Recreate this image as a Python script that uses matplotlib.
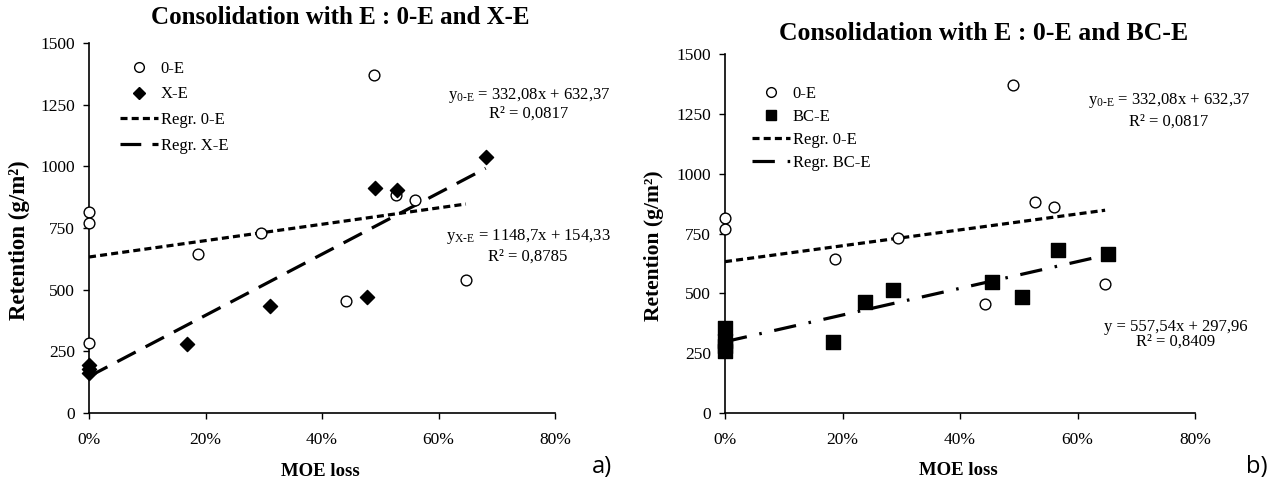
import matplotlib
matplotlib.use("Agg")
import matplotlib.pyplot as plt
from matplotlib.lines import Line2D
from matplotlib.ticker import PercentFormatter
import numpy as np

plt.rcParams['font.family'] = ['Liberation Serif', 'DejaVu Serif']
plt.rcParams['mathtext.fontset'] = 'custom'
plt.rcParams['mathtext.rm'] = 'Liberation Serif'
plt.rcParams['mathtext.it'] = 'Liberation Serif:italic'

# ---------------- data ----------------
oe_x = [0.0, 0.0, 0.0, 0.187, 0.295, 0.442, 0.490, 0.527, 0.560, 0.647]
oe_y = [815, 770, 285, 645, 730, 455, 1370, 882, 862, 540]

xe_x = [0.0, 0.0, 0.0, 0.169, 0.310, 0.477, 0.491, 0.529, 0.681]
xe_y = [195, 178, 163, 278, 432, 472, 913, 905, 1038]

bce_x = [0.0, 0.0, 0.0, 0.0, 0.184, 0.239, 0.286, 0.455, 0.505, 0.567, 0.652]
bce_y = [357, 302, 280, 260, 297, 463, 513, 548, 485, 682, 665]

# regression coefficients (slope, intercept)
reg_oe = (332.08, 632.37)
reg_bce = (557.54, 297.96)
reg_xe_line_x = [0.0, 0.681]
reg_xe_line_y = [148, 992]

eq_oe = ['$\\mathrm{y}_{\\mathrm{0\u2010E}}$ = 332,08x + 632,37', 'R² = 0,0817']
eq_xe = ['$\\mathrm{y}_{\\mathrm{X\u2010E}}$ = 1148,7x + 154,33', 'R² = 0,8785']
eq_bce = ['y = 557,54x + 297,96', 'R² = 0,8409']

titles = ['Consolidation with E : 0-E and X-E', 'Consolidation with E : 0-E and BC-E']
x_ticks = [0, 0.2, 0.4, 0.6, 0.8]
y_ticks = [0, 250, 500, 750, 1000, 1250, 1500]

W, H = 1274, 486
fig = plt.figure(figsize=(W / 100, H / 100), dpi=100)


def px_ax(l, t, r, b):
    return fig.add_axes([l / W, 1 - b / H, (r - l) / W, (b - t) / H])


def ftext(x, y, s, **kw):
    return fig.text(x / W, 1 - y / H, s, ha='center', va='center', **kw)


axL = px_ax(89, 43, 555, 413)
axR = px_ax(725, 54, 1195, 413)

short_dash = (0, (2.2, 1.3))
long_dash = (0, (6.5, 3.5))
dash_dot = (0, (7, 4, 0.8, 4))
LW = 2.3
FS = 12

for ax in (axL, axR):
    ax.set_xlim(0, 0.8)
    ax.set_ylim(0, 1500)
    ax.set_xticks(x_ticks)
    ax.set_yticks(y_ticks)
    ax.xaxis.set_major_formatter(PercentFormatter(1.0, decimals=0))
    ax.spines['top'].set_visible(False)
    ax.spines['right'].set_visible(False)
    ax.spines['left'].set_linewidth(1.2)
    ax.spines['bottom'].set_linewidth(1.2)
    ax.tick_params(axis='both', labelsize=12.5, length=4, width=1, direction='out')
    ax.tick_params(axis='x', pad=10)
    ax.tick_params(axis='y', pad=6)
    ax.patch.set_alpha(0)

# axis labels
ftext(320, 471, 'MOE loss', fontsize=13.5, fontweight='bold')
ftext(958, 470, 'MOE loss', fontsize=13.5, fontweight='bold')
ftext(19, 240, 'Retention (g/m²)', fontsize=16.5, fontweight='bold', rotation=90)
ftext(654, 246, 'Retention (g/m²)', fontsize=15.5, fontweight='bold', rotation=90)

# titles
ftext(340, 17, titles[0], fontsize=18, fontweight='bold')
ftext(984, 33, titles[1], fontsize=18.5, fontweight='bold')

# ----- left panel -----
xs = np.linspace(0, max(oe_x), 50)
axL.plot(xs, reg_oe[0] * xs + reg_oe[1], color='black', lw=LW, ls=short_dash, zorder=2)
axL.plot(reg_xe_line_x, reg_xe_line_y, color='black', lw=LW, ls=long_dash, zorder=2)
axL.scatter(oe_x, oe_y, s=60, facecolor='white', edgecolor='black', linewidth=1.0, zorder=3,
            clip_on=False)
axL.scatter(xe_x, xe_y, s=52, marker='D', color='black', zorder=3, clip_on=False)

hL = [Line2D([], [], ls='none', marker='o', mfc='white', mec='black', ms=7, mew=1.0),
      Line2D([], [], ls='none', marker='D', color='black', ms=6.5),
      Line2D([], [], color='black', lw=LW, ls=short_dash),
      Line2D([], [], color='black', lw=LW, ls=long_dash)]
axL.legend(hL, ['0-E', 'X-E', 'Regr. 0-E', 'Regr. X-E'], loc='upper left',
           bbox_to_anchor=(0.066, 0.952), frameon=False, fontsize=FS, handlelength=2.3,
           handletextpad=0.15, labelspacing=0.58, borderpad=0, borderaxespad=0)

ftext(529, 95, eq_oe[0], fontsize=FS)
ftext(529, 114, eq_oe[1], fontsize=FS)
ftext(528, 237, eq_xe[0], fontsize=FS)
ftext(528, 257, eq_xe[1], fontsize=FS)

# ----- right panel -----
axR.plot(xs, reg_oe[0] * xs + reg_oe[1], color='black', lw=LW, ls=short_dash, zorder=2)
xb = np.linspace(0, max(bce_x), 50)
axR.plot(xb, reg_bce[0] * xb + reg_bce[1], color='black', lw=LW, ls=dash_dot, zorder=2)
axR.scatter(oe_x, oe_y, s=60, facecolor='white', edgecolor='black', linewidth=1.0, zorder=3,
            clip_on=False)
axR.scatter(bce_x, bce_y, s=110, marker='s', color='black', zorder=3, clip_on=False)

hR = [Line2D([], [], ls='none', marker='o', mfc='white', mec='black', ms=7, mew=1.0),
      Line2D([], [], ls='none', marker='s', color='black', ms=7),
      Line2D([], [], color='black', lw=LW, ls=short_dash),
      Line2D([], [], color='black', lw=LW, ls=dash_dot)]
axR.legend(hR, ['0-E', 'BC-E', 'Regr. 0-E', 'Regr. BC-E'], loc='upper left',
           bbox_to_anchor=(0.057, 0.912), frameon=False, fontsize=FS, handlelength=2.3,
           handletextpad=0.15, labelspacing=0.42, borderpad=0, borderaxespad=0)

ftext(1169, 100, eq_oe[0], fontsize=FS)
ftext(1169, 122, eq_oe[1], fontsize=FS)
ftext(1176, 327, eq_bce[0], fontsize=FS)
ftext(1176, 342, eq_bce[1], fontsize=FS)

# panel labels
ftext(602, 467, 'a)', fontsize=17, family=['Open Sans', 'DejaVu Sans'])
ftext(1257, 467, 'b)', fontsize=17, family=['Open Sans', 'DejaVu Sans'])

fig.savefig('out.png', dpi=100)
